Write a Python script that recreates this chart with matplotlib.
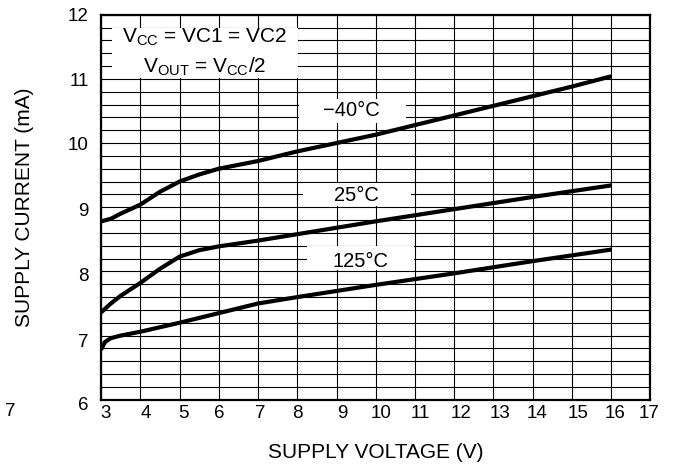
import matplotlib
matplotlib.use('Agg')
import matplotlib.pyplot as plt
from matplotlib.patches import Rectangle
from matplotlib.transforms import ScaledTranslation
import numpy as np

plt.rcParams['font.family'] = ['Liberation Sans', 'DejaVu Sans']
plt.rcParams['mathtext.fontset'] = 'custom'
plt.rcParams['mathtext.rm'] = 'Liberation Sans'
plt.rcParams['mathtext.default'] = 'regular'

# === DATA ===
v_m40 = [3, 3.25, 3.5, 4, 4.5, 5, 5.5, 6, 7, 8, 9, 10, 11, 12, 13, 14, 15, 16]
i_m40 = [8.78, 8.82, 8.90, 9.04, 9.24, 9.40, 9.51, 9.60, 9.72, 9.87, 10.00,
         10.13, 10.28, 10.43, 10.58, 10.73, 10.88, 11.04]

v_25 = [3, 3.25, 3.5, 4, 4.5, 5, 5.5, 6, 7, 8, 10, 12, 14, 16]
i_25 = [7.36, 7.50, 7.62, 7.82, 8.04, 8.23, 8.33, 8.39, 8.48, 8.58, 8.78,
        8.97, 9.16, 9.34]

v_125 = [3, 3.1, 3.25, 3.5, 4, 5, 6, 7, 8, 10, 12, 14, 16]
i_125 = [6.78, 6.90, 6.96, 7.00, 7.06, 7.20, 7.35, 7.50, 7.60, 7.79, 7.97,
         8.16, 8.34]

x_ticks = list(range(3, 18))
y_ticks = list(range(6, 13))

# small nudges (pixels) of the tick labels, as they sit in the original
x_label_nudge = [4, 6, 3.5, 0, 2, 0, 5.5, 5, 5, 7, 6.5, 4, 6, 4, -1.5]
y_label_nudge = [-4, -5, -3.5, -2, -0.5, -0.5, 0]

# === FIGURE ===
fig = plt.figure(figsize=(6.74, 4.69), dpi=100)
ax = fig.add_axes([0.1499, 0.1476, 0.8152, 0.8211])

ax.set_xlim(3, 17)
ax.set_ylim(6, 12)
ax.set_xticks(x_ticks)
ax.set_xticklabels([str(t) for t in x_ticks])
ax.set_yticks(y_ticks)
ax.set_yticks(np.arange(6, 12.01, 0.2), minor=True)
ax.tick_params(which='both', length=0, labelsize=13.5)
ax.tick_params(axis='x', pad=4)
ax.tick_params(axis='y', pad=9)

for lab, dx in zip(ax.get_xticklabels(), x_label_nudge):
    lab.set_transform(lab.get_transform() + ScaledTranslation(dx / 100, 0, fig.dpi_scale_trans))
for lab, dy in zip(ax.get_yticklabels(), y_label_nudge):
    lab.set_transform(lab.get_transform() + ScaledTranslation(0, dy / 100, fig.dpi_scale_trans))

# grid
ax.grid(which='both', color='black', linewidth=0.8, zorder=1)
ax.set_axisbelow(True)
for s in ax.spines.values():
    s.set_linewidth(1.6)
    s.set_zorder(5)

# white label backgrounds (x0, y0, w, h in data units)
label_boxes = [
    (3.28, 11.02, 4.74, 0.78),
    (8.04, 10.32, 2.72, 0.37),
    (8.15, 9.02, 2.75, 0.36),
    (8.25, 8.02, 2.72, 0.37),
]
for x0, y0, w, h in label_boxes:
    ax.add_patch(Rectangle((x0, y0), w, h, facecolor='white', edgecolor='none', zorder=2))

# curves
for v, i in [(v_m40, i_m40), (v_25, i_25), (v_125, i_125)]:
    ax.plot(v, i, color='black', linewidth=3, solid_joinstyle='round',
            solid_capstyle='butt', zorder=3)

# labels
ax.text(5.65, 11.64, 'V$_{CC}$ = VC1 = VC2', ha='center', va='center', fontsize=15, zorder=4)
ax.text(5.65, 11.19, 'V$_{OUT}$ = V$_{CC}$/2', ha='center', va='center', fontsize=15, zorder=4)
ax.text(9.37, 10.5, '\u221240\u00b0C', ha='center', va='center', fontsize=14.5, zorder=4)
ax.text(9.52, 9.19, '25\u00b0C', ha='center', va='center', fontsize=14.5, zorder=4)
ax.text(9.62, 8.15, '125\u00b0C', ha='center', va='center', fontsize=14.5, zorder=4)

ax.set_xlabel('SUPPLY VOLTAGE (V)', fontsize=15, labelpad=15)
ax.set_ylabel('SUPPLY CURRENT (mA)', fontsize=15, labelpad=24)

# stray label at the far left of the original
fig.text(10.5 / 674, 1 - 411 / 469, '7', ha='center', va='center', fontsize=13.5)

fig.savefig('out.png', dpi=100)
